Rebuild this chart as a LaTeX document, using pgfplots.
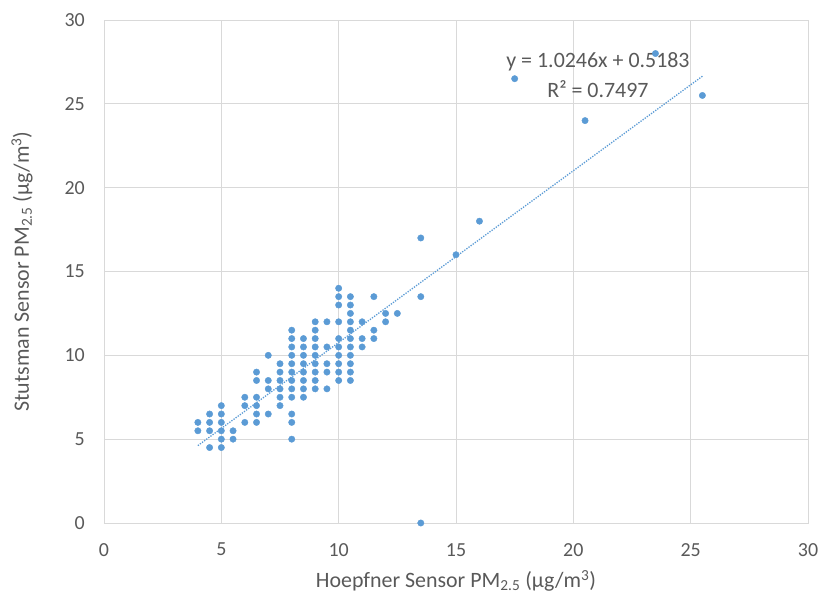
\documentclass[border=0pt]{standalone}
\usepackage{fontspec}
\setmainfont{Carlito}
\usepackage{pgfplots}
\pgfplotsset{compat=1.18}
\definecolor{xblue}{RGB}{91,155,213}
\definecolor{xgrid}{RGB}{217,217,217}
\definecolor{xtext}{RGB}{89,89,89}
\begin{document}
\begin{tikzpicture}
\begin{axis}[
  scale only axis,
  width=704bp, height=503bp,
  xmin=0, xmax=30, ymin=0, ymax=30,
  xtick={0,5,...,30}, ytick={0,5,...,30},
  grid=major,
  grid style={xgrid, line width=0.8bp},
  axis line style={draw=xgrid, line width=0.8bp},
  major tick length=0pt,
  clip=false,
  /pgf/number format/assume math mode=true,
  tick label style={font=\fontsize{20}{24}\selectfont, text=xtext, inner sep=0pt},
  xticklabel style={anchor=north},
  yticklabel style={anchor=east},
  xticklabel shift=20bp,
  yticklabel shift=19bp,
  xlabel={Hoepfner Sensor PM\textsubscript{2.5} (µg/m\textsuperscript{3})},
  ylabel={Stutsman Sensor PM\textsubscript{2.5} (µg/m\textsuperscript{3})},
  label style={font=\fontsize{22}{26}\selectfont, text=xtext, inner sep=0pt},
  xlabel style={at={(axis description cs:0.5,0)}, anchor=center, yshift=-58bp},
  ylabel style={at={(axis description cs:0,0.5)}, anchor=center, yshift=82bp},
]
\addplot[only marks, mark=*, mark size=3.2bp, mark options={fill=xblue, draw=xblue}] coordinates {
(4,6) (4,5.5)
(4.5,6.5) (4.5,6) (4.5,5.5) (4.5,4.5)
(5,7) (5,6.5) (5,6) (5,5.5) (5,5) (5,4.5)
(5.5,5.5) (5.5,5)
(6,7.5) (6,7) (6,6)
(6.5,9) (6.5,8.5) (6.5,7.5) (6.5,7) (6.5,6.5) (6.5,6)
(7,10) (7,8.5) (7,8) (7,6.5)
(7.5,9.5) (7.5,9) (7.5,8.5) (7.5,8) (7.5,7.5) (7.5,7)
(8,11.5) (8,11) (8,10.5) (8,10) (8,9.5) (8,9) (8,8.5) (8,8) (8,7.5) (8,6.5) (8,6) (8,5)
(8.5,11) (8.5,10.5) (8.5,10) (8.5,9.5) (8.5,9) (8.5,8.5) (8.5,8) (8.5,7.5)
(9,12) (9,11.5) (9,11) (9,10.5) (9,10) (9,9.5) (9,9) (9,8.5) (9,8)
(9.5,12) (9.5,10.5) (9.5,9.5) (9.5,9) (9.5,8)
(10,14) (10,13.5) (10,13) (10,12) (10,11) (10,10.5) (10,10) (10,9.5) (10,9) (10,8.5)
(10.5,13.5) (10.5,13) (10.5,12.5) (10.5,12) (10.5,11.5) (10.5,11) (10.5,10.5) (10.5,10) (10.5,9.5) (10.5,9) (10.5,8.5)
(11,12) (11,11) (11,10.5)
(11.5,13.5) (11.5,11.5) (11.5,11)
(12,12.5) (12,12)
(12.5,12.5)
(13.5,17) (13.5,13.5) (13.5,0)
(15,16) (16,18) (17.5,26.5) (20.5,24) (23.5,28) (25.5,25.5)
};
\addplot[xblue, line width=1.3bp, dash pattern=on 1.3bp off 1.3bp] coordinates {(4,4.6167) (25.5,26.6456)};
\node[font=\fontsize{22}{26}\selectfont, text=xtext, inner sep=0pt] at (axis cs:21.05,27.49) {y = 1.0246x + 0.5183};
\node[font=\fontsize{22}{26}\selectfont, text=xtext, inner sep=0pt] at (axis cs:21.05,25.88) {R² = 0.7497};
\end{axis}
\pgfresetboundingbox
\useasboundingbox (-104bp,-78bp) rectangle (717bp,523bp);
\end{tikzpicture}
\end{document}
